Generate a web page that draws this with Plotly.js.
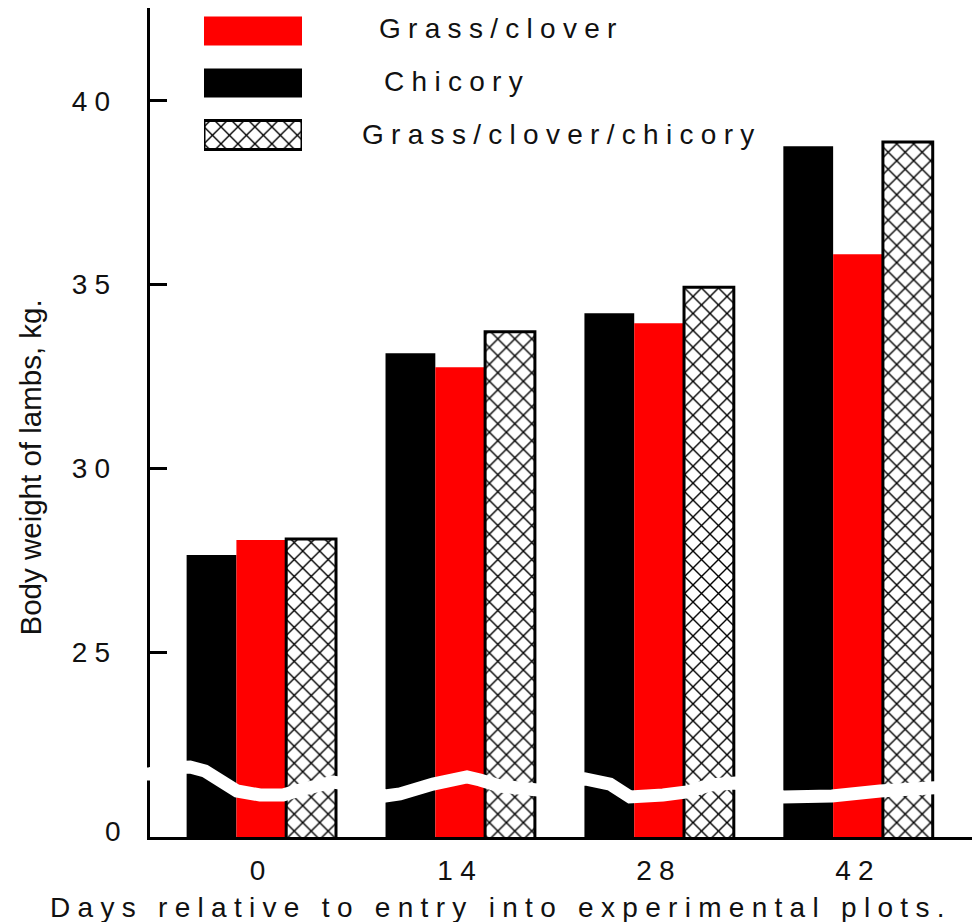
<!DOCTYPE html>
<html>
<head>
<meta charset="utf-8">
<script src="https://cdn.plot.ly/plotly-3.0.1.min.js"></script>
<style>
html,body{margin:0;padding:0;background:#ffffff;}
#chart{width:972px;height:922px;}
</style>
</head>
<body>
<div id="chart"></div>
<script>
// ---- data ----
const days = ['0', '14', '28', '42'];
const chicory = [27.64, 33.13, 34.22, 38.77];
const grassClover = [28.05, 32.75, 33.95, 35.83];
const grassCloverChicory = [28.08, 33.72, 34.93, 38.88];
const seriesNames = ['Chicory', 'Grass/clover', 'Grass/clover/chicory'];
const legendLabels = ['Grass/clover', 'Chicory', 'Grass/clover/chicory'];
const yTickVals = [25, 30, 35, 40];
const yTickText = ['25', '30', '35', '40'];
const brokenZeroLabel = '0';
const xTitle = 'Days relative to entry into experimental plots.';
const yTitle = 'Body weight of lambs, kg.';

// ---- styling helpers ----
const FONT = 'Liberation Sans, Arial, Helvetica, sans-serif';
const SP = 7.3; // horizontal stretch of the original lettering
const wide = s => '<span style="letter-spacing:' + SP + 'px">' + s + '</span>';

// plot area: x 150..972 px, y 8..837 px
const L = 150, R = 972, T = 8, B = 837;
const px = x => (x - L) / (R - L);
const py = y => (B - y) / (B - T);

const RED = '#ff0000';
const BLACK = '#000000';
const WHITE = '#ffffff';
const hatch = {shape: 'x', fgcolor: BLACK, bgcolor: WHITE, size: 12, solidity: 0.22};

const traces = [
  {type: 'bar', name: seriesNames[0], x: days, y: chicory,
   marker: {color: BLACK, line: {width: 0}}},
  {type: 'bar', name: seriesNames[1], x: days, y: grassClover,
   marker: {color: RED, line: {width: 0}}},
  {type: 'bar', name: seriesNames[2], x: days, y: grassCloverChicory,
   marker: {color: WHITE, line: {color: BLACK, width: 3}, pattern: hatch}}
];

// legend swatches, drawn on a small inset axis (one row per legend entry)
const swatchStyles = [
  {color: RED, line: {width: 0}},
  {color: BLACK, line: {width: 0}},
  {color: WHITE, line: {color: BLACK, width: 3}, pattern: hatch}
];
legendLabels.forEach((lab, i) => {
  traces.push({type: 'bar', orientation: 'h', x: [1], y: [i], base: 0, width: 0.56, offset: -0.28,
    xaxis: 'x2', yaxis: 'y2', showlegend: false, hoverinfo: 'skip', name: lab,
    marker: swatchStyles[i]});
});

// white axis-break line
const breakPts = [[138,774],[149,774],[170,768],[190,767],[205,771],[237,791],[260,795],[283,795],[300,790],[333,782],
  [360,786],[385,796],[400,794],[433,784],[467,777],[480,780],[500,786],[537,790],[560,785],[585,779],[610,784],
  [630,797],[663,795],[687,792],[710,785],[735,783],[760,790],[783,797],[832,796],[880,791],[930,788],[968,786]];
const breakPath = breakPts.map((p, i) => (i ? 'L' : 'M') + px(p[0]).toFixed(4) + ',' + py(p[1]).toFixed(4)).join(' ');

const legendPos = [[377, 28], [382, 82], [360, 134]];

const annotations = legendLabels.map((t, i) => ({
  text: wide(t), xref: 'paper', yref: 'paper', x: px(legendPos[i][0]), y: py(legendPos[i][1]),
  xanchor: 'left', yanchor: 'middle', showarrow: false, font: {family: FONT, size: 28, color: '#111'}
}));
annotations.push({
  text: wide(xTitle), xref: 'paper', yref: 'paper', x: px(501), y: py(907),
  xanchor: 'center', yanchor: 'middle', showarrow: false, font: {family: FONT, size: 28, color: '#111'}
});
annotations.push({
  text: yTitle, xref: 'paper', yref: 'paper', x: px(30), y: py(467.5), textangle: -90,
  xanchor: 'center', yanchor: 'middle', showarrow: false, font: {family: FONT, size: 29.5, color: '#111'}
});
annotations.push({
  text: wide(brokenZeroLabel), xref: 'paper', yref: 'paper', x: px(130), y: py(831),
  xanchor: 'right', yanchor: 'middle', showarrow: false, font: {family: FONT, size: 28, color: '#111'}
});

const layout = {
  width: 972, height: 922,
  margin: {l: L, r: 972 - R, t: T, b: 922 - B},
  paper_bgcolor: WHITE, plot_bgcolor: WHITE,
  showlegend: false,
  barmode: 'group', bargap: 0.249, bargroupgap: 0,
  font: {family: FONT, size: 28, color: '#111'},
  xaxis: {
    type: 'category', range: [-0.5596, 3.573],
    tickmode: 'array', tickvals: days, ticktext: days.map(wide),
    showline: true, linecolor: BLACK, linewidth: 3, ticks: '', showgrid: false, zeroline: false,
    ticklabelstandoff: 6, tickfont: {family: FONT, size: 28, color: '#111'}
  },
  yaxis: {
    range: [19.966, 42.53], tickmode: 'array', tickvals: yTickVals, ticktext: yTickText.map(wide),
    showline: true, linecolor: BLACK, linewidth: 3, ticks: 'inside', ticklen: 17, tickwidth: 3, tickcolor: BLACK,
    showgrid: false, zeroline: false, ticklabelstandoff: 24,
    tickfont: {family: FONT, size: 28, color: '#111'}
  },
  xaxis2: {domain: [px(204), px(302)], range: [0, 1], anchor: 'y2', visible: false, fixedrange: true},
  yaxis2: {domain: [0.8, 1], range: [2.746, -0.4423], anchor: 'x2', visible: false, fixedrange: true},
  shapes: [{type: 'path', xref: 'paper', yref: 'paper', path: breakPath,
            line: {color: WHITE, width: 13}, layer: 'above'}],
  annotations: annotations
};

Plotly.newPlot('chart', traces, layout, {staticPlot: true, displayModeBar: false});
</script>
</body>
</html>
